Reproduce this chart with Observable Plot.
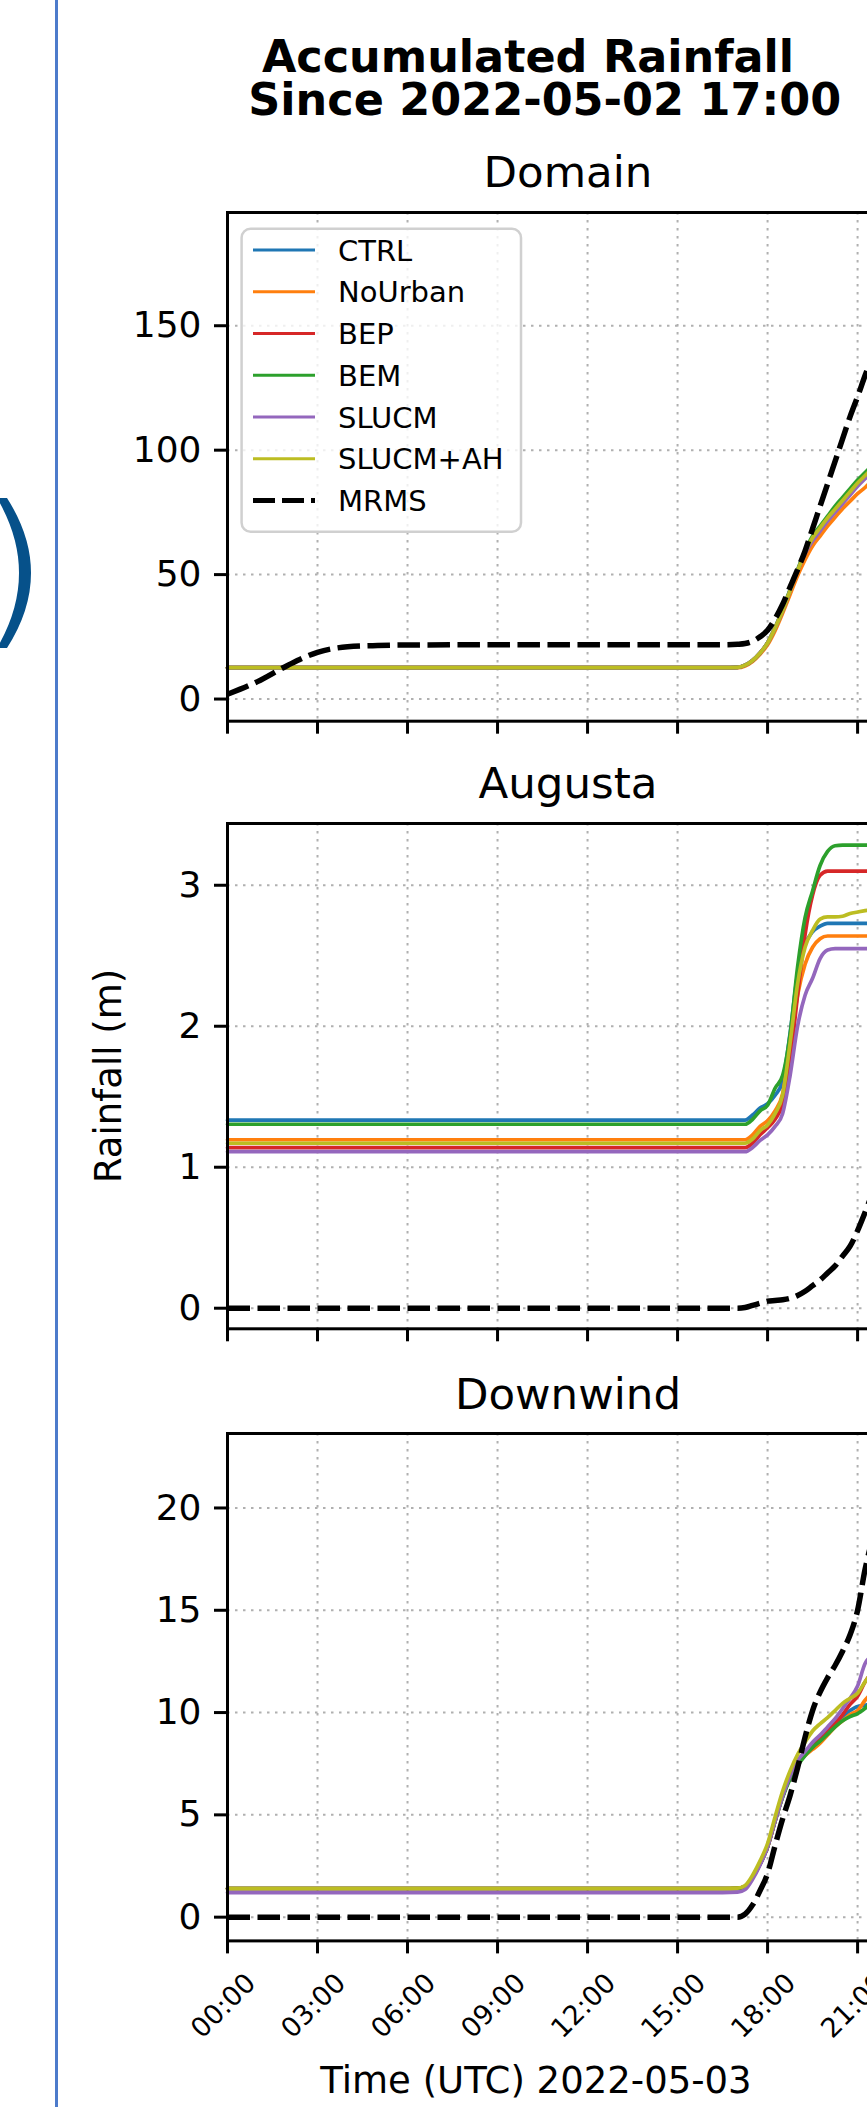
<!DOCTYPE html>
<html>
<head>
<meta charset="utf-8">
<script src="https://cdn.jsdelivr.net/npm/d3@7"></script>
<script src="https://cdn.jsdelivr.net/npm/@observablehq/plot@0.6"></script>
<style>
  html, body { margin: 0; padding: 0; background: #fff; }
  body { width: 867px; height: 2107px; overflow: hidden; position: relative; font-family: "DejaVu Sans", sans-serif; }
  .abs { position: absolute; left: 0; }
</style>
</head>
<body>
<div class="abs" style="left:55px;top:0;width:3px;height:2107px;background:#4d7bcb;"></div>
<svg class="abs" style="top:0px" width="60" height="700"><path d="M 7 498 Q 55 573 7 648 L -3 648 Q 41 573 -3 498 Z" fill="#06518a"/></svg>
<div id="charts"></div>
<script>
// ---------- data ----------
const seriesNames = ["CTRL", "NoUrban", "BEP", "BEM", "SLUCM", "SLUCM+AH", "MRMS"];
const seriesColors = ["#1f77b4", "#ff7f0e", "#d62728", "#2ca02c", "#9467bd", "#bcbd22", "#000000"];
// hours since 2022-05-03 00:00 UTC
const times = [0,1,2,3,4,5,6,9,12,15,16.5,17,17.25,17.5,17.75,18,18.25,18.5,18.75,19,19.25,19.5,19.75,20,20.25,20.5,20.75,21,21.25,21.5];
const xTicks = [0,3,6,9,12,15,18,21];
const xTickLabels = ["00:00","03:00","06:00","09:00","12:00","15:00","18:00","21:00"];

// Domain
const domainCTRL    = [12.6,12.6,12.6,12.6,12.6,12.6,12.6,12.6,12.6,12.6,12.6,12.7,13.6,15.5,18.5,22.5,28.5,35.5,43.5,51.5,59,64.5,68.5,72.5,76,79.5,83,86.5,89.5,92.5];
const domainNoUrban = [12.6,12.6,12.6,12.6,12.6,12.6,12.6,12.6,12.6,12.6,12.6,12.6,13.3,15.1,18,21.8,27.5,34.5,42,49.5,56,61.5,65.5,69.5,73,76.5,79.5,82.5,85,88];
const domainBEP     = [12.6,12.6,12.6,12.6,12.6,12.6,12.6,12.6,12.6,12.6,12.6,12.7,13.6,15.5,18.5,22.5,28.5,35.5,43.5,51.5,58.5,64,68,72,75.5,79,82.5,86,89,92];
const domainBEM     = [12.6,12.6,12.6,12.6,12.6,12.6,12.6,12.6,12.6,12.6,12.6,12.7,13.6,15.5,18.5,22.6,28.7,36,44,52,59.5,65.5,69.5,73.5,77.5,81,84.5,88,91,94];
const domainSLUCM   = [12.6,12.6,12.6,12.6,12.6,12.6,12.6,12.6,12.6,12.6,12.6,12.7,13.6,15.5,18.5,22.5,28.5,35.5,43.5,51.5,58.5,63.5,67.5,71.5,75,78.5,82,85.5,88.5,91.5];
const domainSLUCMAH = [12.6,12.6,12.6,12.6,12.6,12.6,12.6,12.6,12.6,12.6,12.6,12.7,13.6,15.5,18.5,22.5,28.5,35.5,43.5,51.5,59,64.8,68.8,72.8,76.3,79.8,83.3,86.8,89.8,92.8];
const domainMRMS    = [1.9,7,13.5,18.8,21.0,21.5,21.7,21.8,21.8,21.8,21.8,22.0,22.3,23.2,25.0,27.6,32.2,38,45,52,59.5,68.5,77.5,86.5,95.5,104.5,113.5,121.5,130,138];

// Augusta
const augCTRL    = [1.334,1.334,1.334,1.334,1.334,1.334,1.334,1.334,1.334,1.334,1.334,1.334,1.334,1.37,1.42,1.45,1.51,1.61,1.95,2.37,2.58,2.67,2.71,2.73,2.73,2.73,2.73,2.73,2.73,2.73];
const augNoUrban = [1.195,1.195,1.195,1.195,1.195,1.195,1.195,1.195,1.195,1.195,1.195,1.195,1.195,1.23,1.29,1.33,1.40,1.52,1.86,2.22,2.44,2.56,2.62,2.64,2.64,2.64,2.64,2.64,2.64,2.64];
const augBEP     = [1.139,1.139,1.139,1.139,1.139,1.139,1.139,1.139,1.139,1.139,1.139,1.139,1.139,1.17,1.23,1.28,1.34,1.45,1.75,2.22,2.65,2.93,3.07,3.10,3.10,3.10,3.10,3.10,3.10,3.10];
const augBEM     = [1.305,1.305,1.305,1.305,1.305,1.305,1.305,1.305,1.305,1.305,1.305,1.305,1.305,1.34,1.40,1.44,1.56,1.65,1.94,2.42,2.77,2.96,3.14,3.24,3.28,3.285,3.285,3.285,3.285,3.285];
const augSLUCM   = [1.11,1.11,1.11,1.11,1.11,1.11,1.11,1.11,1.11,1.11,1.11,1.11,1.11,1.14,1.19,1.23,1.29,1.38,1.65,2.0,2.22,2.34,2.48,2.54,2.55,2.55,2.55,2.55,2.55,2.55];
const augSLUCMAH = [1.17,1.17,1.17,1.17,1.17,1.17,1.17,1.17,1.17,1.17,1.17,1.17,1.17,1.20,1.26,1.30,1.38,1.51,1.88,2.30,2.56,2.68,2.76,2.775,2.775,2.78,2.80,2.81,2.82,2.83];
const augMRMS    = [0,0,0,0,0,0,0,0,0,0,0,0,0.005,0.02,0.035,0.05,0.055,0.06,0.07,0.09,0.12,0.16,0.2,0.25,0.3,0.37,0.44,0.55,0.68,0.82];

// Downwind
const dwCTRL    = [1.40,1.40,1.40,1.40,1.40,1.40,1.40,1.40,1.40,1.40,1.40,1.41,1.5,1.95,2.6,3.44,4.7,5.9,6.85,7.6,8.0,8.4,8.8,9.2,9.5,9.8,10.1,10.3,10.35,10.5];
const dwNoUrban = [1.40,1.40,1.40,1.40,1.40,1.40,1.40,1.40,1.40,1.40,1.40,1.41,1.5,1.95,2.6,3.44,4.7,5.9,6.85,7.55,7.9,8.2,8.5,8.9,9.3,9.6,9.9,10.1,10.6,11];
const dwBEP     = [1.40,1.40,1.40,1.40,1.40,1.40,1.40,1.40,1.40,1.40,1.40,1.41,1.5,1.95,2.6,3.44,4.7,5.9,6.85,7.6,7.95,8.3,8.7,9.1,9.45,9.9,10.4,10.8,11.5,12];
const dwBEM     = [1.40,1.40,1.40,1.40,1.40,1.40,1.40,1.40,1.40,1.40,1.40,1.41,1.5,1.95,2.6,3.44,4.7,5.85,6.75,7.4,7.9,8.3,8.6,8.95,9.3,9.6,9.8,9.95,10.2,10.6];
const dwSLUCM   = [1.20,1.20,1.20,1.20,1.20,1.20,1.20,1.20,1.20,1.20,1.20,1.22,1.35,1.85,2.55,3.44,4.7,5.9,6.9,7.65,8.1,8.55,8.9,9.3,9.7,10.2,10.7,11.3,12.4,12.8];
const dwSLUCMAH = [1.40,1.40,1.40,1.40,1.40,1.40,1.40,1.40,1.40,1.40,1.40,1.42,1.55,2.05,2.75,3.6,4.9,6.15,7.15,7.95,8.55,9.1,9.45,9.75,10.1,10.45,10.7,10.95,11.5,12];
const dwMRMS    = [0,0,0,0,0,0,0,0,0,0,0,0,0.15,0.6,1.3,2.13,3.5,4.8,5.95,7.3,8.8,10.1,11.0,11.7,12.3,13.0,13.8,15.0,17.0,18.5];

const panelTitles = ["Domain", "Augusta", "Downwind"];
const panelYTicks = [[0,50,100,150],[0,1,2,3],[0,5,10,15,20]];

// ---------- layout ----------
const FONT = "DejaVu Sans";
const X_END = 22.73;           // right edge of axes (beyond page)
const AX_LEFT = 227, AX_RIGHT = 909;
const panels = [
  {series:[domainCTRL,domainNoUrban,domainBEP,domainBEM,domainSLUCM,domainSLUCMAH,domainMRMS], yDomain:[-8.9,195.5], top:212, bottom:720.7, titleY:187, labels:false},
  {series:[augCTRL,augNoUrban,augBEP,augBEM,augSLUCM,augSLUCMAH,augMRMS], yDomain:[-0.146,3.438], top:822.7, bottom:1328, titleY:798, labels:false},
  {series:[dwCTRL,dwNoUrban,dwBEP,dwBEM,dwSLUCM,dwSLUCMAH,dwMRMS], yDomain:[-1.16,23.64], top:1433.3, bottom:1940.7, titleY:1408.5, labels:true}
];

const charts = document.getElementById("charts");
panels.forEach((p, pi) => {
  const mt = 10, mb = p.labels ? 140 : 30;
  const h = mt + (p.bottom - p.top) + mb;
  const yTicks = panelYTicks[pi];
  const lineMarks = seriesNames.map((name, si) => {
    const rows = times.map((t, j) => ({t, v: p.series[si][j]}));
    const isObs = name === "MRMS";
    return Plot.line(rows, {
      x: "t", y: "v", stroke: seriesColors[si],
      strokeWidth: isObs ? 5.5 : 3.7,
      strokeDasharray: isObs ? "22.5,7.5" : null,
      strokeLinecap: isObs ? "butt" : "round",
      curve: "monotone-x"
    });
  });
  const marks = [
    Plot.ruleX(xTicks, {stroke: "#b0b0b0", strokeWidth: 2, strokeDasharray: "2.5,5.5"}),
    Plot.ruleY(yTicks, {stroke: "#b0b0b0", strokeWidth: 2, strokeDasharray: "2.5,5.5"}),
    ...lineMarks,
    Plot.frame({stroke: "black", strokeWidth: 3}),
    Plot.axisY({ticks: yTicks, tickSize: 13, tickPadding: 13, strokeWidth: 3, fontSize: 36, tickFormat: d => String(d), label: null}),
    Plot.axisX({ticks: xTicks, tickSize: 13, strokeWidth: 3, tickFormat: () => "", label: null})
  ];
  if (p.labels) {
    marks.push(Plot.text(xTicks, {
      x: d => d, text: (d, i) => xTickLabels[i], frameAnchor: "bottom",
      dy: 65, dx: -4, rotate: -45, fontSize: 27, textAnchor: "middle", lineAnchor: "middle", fill: "black"
    }));
  }
  const chart = Plot.plot({
    width: AX_RIGHT + 20, height: h,
    marginLeft: AX_LEFT, marginRight: 20, marginTop: mt, marginBottom: mb,
    x: {domain: [0, X_END]},
    y: {domain: p.yDomain},
    style: {fontFamily: FONT, fontSize: "36px", color: "black", background: "transparent", maxWidth: "none", overflow: "visible"},
    marks
  });
  const holder = document.createElement("div");
  holder.className = "abs";
  holder.style.top = (p.top - mt) + "px";
  holder.style.width = (AX_RIGHT + 20) + "px";
  holder.appendChild(chart);
  charts.appendChild(holder);
});

// ---------- overlay texts & legend ----------
const NS = "http://www.w3.org/2000/svg";
const ov = document.createElementNS(NS, "svg");
ov.setAttribute("width", 867); ov.setAttribute("height", 2107);
ov.setAttribute("class", "abs");
ov.style.top = "0px"; ov.style.pointerEvents = "none";
document.body.appendChild(ov);
function txt(s, x, y, size, opts = {}) {
  const t = document.createElementNS(NS, "text");
  t.setAttribute("x", x); t.setAttribute("y", y);
  t.setAttribute("font-family", FONT); t.setAttribute("font-size", size);
  t.setAttribute("text-anchor", opts.anchor || "middle");
  if (opts.bold) t.setAttribute("font-weight", "bold");
  if (opts.transform) t.setAttribute("transform", opts.transform);
  t.setAttribute("fill", "black");
  t.textContent = s;
  ov.appendChild(t);
  return t;
}
txt("Accumulated Rainfall", 528, 71.7, 44.5, {bold: true});
txt("Since 2022-05-02 17:00", 544.7, 115, 44.5, {bold: true});
panels.forEach((p, i) => txt(panelTitles[i], (AX_LEFT + AX_RIGHT) / 2, p.titleY, 43.5));
txt("Rainfall (m)", 0, 0, 37, {transform: "translate(121,1076) rotate(-90)"});
txt("Time (UTC) 2022-05-03", 536, 2093, 37);

// legend in Domain panel
const lg = document.createElementNS(NS, "rect");
lg.setAttribute("x", 241.6); lg.setAttribute("y", 228.7);
lg.setAttribute("width", 279.4); lg.setAttribute("height", 303);
lg.setAttribute("rx", 9); lg.setAttribute("fill", "white"); lg.setAttribute("fill-opacity", 0.8);
lg.setAttribute("stroke", "#d0d0d0"); lg.setAttribute("stroke-width", 2.5);
ov.appendChild(lg);
seriesNames.forEach((name, i) => {
  const y = 250 + i * 41.75;
  const l = document.createElementNS(NS, "line");
  l.setAttribute("x1", 253); l.setAttribute("x2", 315);
  l.setAttribute("y1", y); l.setAttribute("y2", y);
  l.setAttribute("stroke", seriesColors[i]);
  if (name === "MRMS") { l.setAttribute("stroke-width", 5); l.setAttribute("stroke-dasharray", "22,7"); }
  else l.setAttribute("stroke-width", 3);
  ov.appendChild(l);
  txt(name, 338, y + 10.5, 29, {anchor: "start"});
});
</script>
</body>
</html>
